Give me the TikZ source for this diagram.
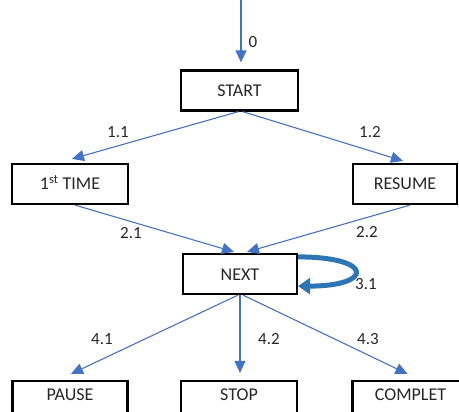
\documentclass[tikz,border=0pt]{standalone}
\usepackage{fontspec}
\setmainfont{Carlito}
\usepackage{xcolor}
\usepackage{tikz}
\usetikzlibrary{arrows.meta, positioning}
\definecolor{flowblue}{HTML}{4472C4}
\definecolor{loopblue}{HTML}{2E75B6}
\definecolor{lbltext}{HTML}{262626}

\begin{document}
\begin{tikzpicture}[
    x=1pt, y=-1pt,
    st/.style={draw=black, line width=2.2pt, minimum width=#1, minimum height=40pt,
               inner sep=0pt, text height=12pt, text depth=0pt, text=lbltext,
               font=\fontsize{18}{20}\selectfont},
    stlow/.style={st=#1, text depth=12pt},
    lb/.style={font=\fontsize{17}{19}\selectfont, text=lbltext, inner sep=0pt},
    flow/.style={draw=flowblue, line width=1.1pt, -{Triangle[length=12pt, width=11pt]}},
    loopy/.style={draw=loopblue, line width=5pt, -{Triangle[length=12pt, width=16pt]}},
]
    \clip (0,0) rectangle (459,412);

    % States
    \node[st=117pt] (start) at (239.5, 90.5) {START};
    \node[st=116pt] (first) at (70, 184) {1\textsuperscript{st} TIME};
    \node[st=104pt] (resume) at (405, 184) {RESUME};
    \node[st=114pt] (next) at (240, 274) {NEXT};
    \node[stlow=115pt] (pause) at (70, 401) {PAUSE};
    \node[stlow=116pt] (stop) at (239, 401) {STOP};
    \node[stlow=116pt] (complet) at (410.5, 401) {COMPLET};

    % Transitions
    \coordinate (entry) at (241, 0);
    \draw[flow] (entry) -- ([xshift=1.5pt, yshift=7pt]start.north);
    \draw[flow] ([xshift=-1pt]start.south) -- ([xshift=2pt, yshift=4pt]first.north);
    \draw[flow] ([xshift=3pt]start.south) -- ([xshift=-2pt, yshift=2pt]resume.north);
    \draw[flow] ([xshift=5pt]first.south) -- ([xshift=-6pt, yshift=1pt]next.north);
    \draw[flow] ([xshift=5pt]resume.south) -- ([xshift=7pt, yshift=1pt]next.north);
    \draw[loopy] ([yshift=-4pt]next.north east)
        .. controls +(76,0) and +(76,0) .. ([yshift=9pt]next.south east);
    \draw[flow] ([xshift=-2pt]next.south) -- ([xshift=1pt, yshift=6pt]pause.north);
    \draw[flow] (next.south) -- ([xshift=1pt, yshift=7pt]stop.north);
    \draw[flow] ([xshift=3pt]next.south) -- ([xshift=-3pt, yshift=6pt]complet.north);

    % Labels
    \node[lb] (l0) at (253, 42) {0};
    \node[lb] (l11) at (118, 132) {1.1};
    \node[lb] (l12) at (370, 132) {1.2};
    \node[lb] (l21) at (131, 233) {2.1};
    \node[lb] (l22) at (367, 232) {2.2};
    \node[lb] (l31) at (366, 284) {3.1};
    \node[lb] (l41) at (102, 339) {4.1};
    \node[lb] (l42) at (269, 339) {4.2};
    \node[lb] (l43) at (368, 339) {4.3};
\end{tikzpicture}
\end{document}
